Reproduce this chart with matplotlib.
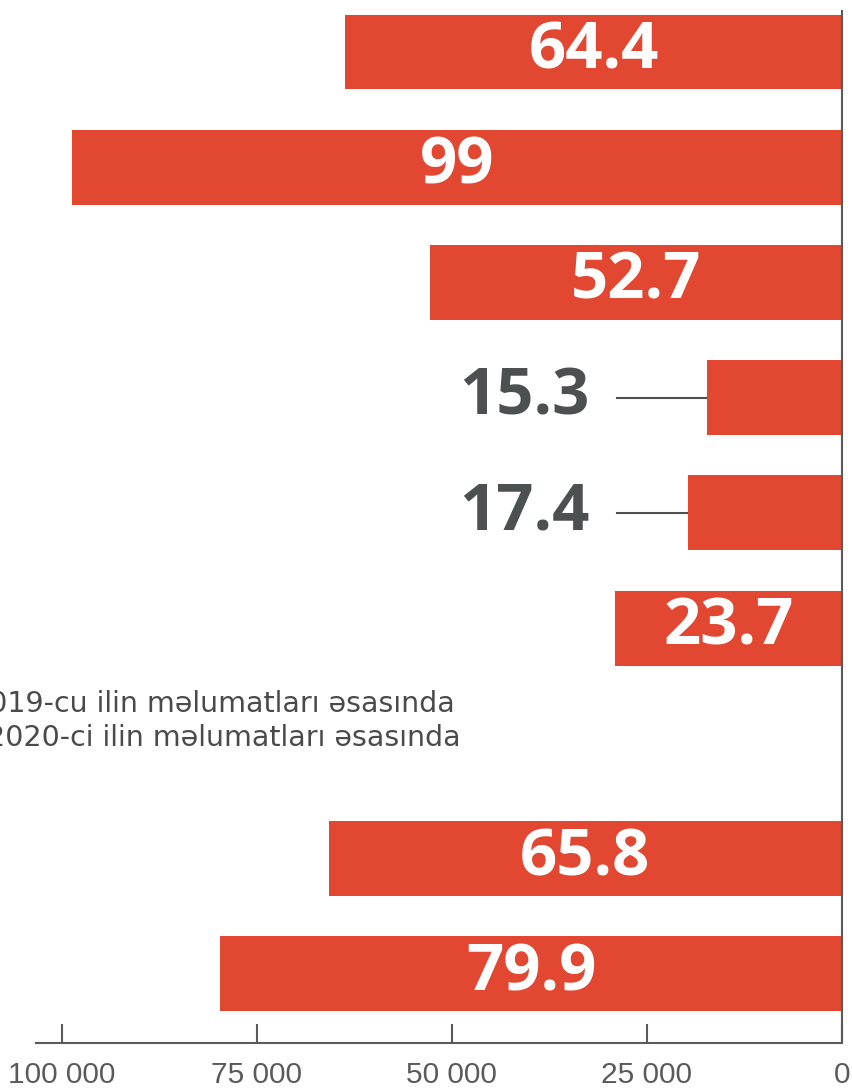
import matplotlib
matplotlib.use("Agg")
import matplotlib.pyplot as plt

# bar lengths, top to bottom
values = [63700, 98700, 52800, 17300, 19700, 29100, 65800, 79700]
labels = ["64.4", "99", "52.7", "15.3", "17.4", "23.7", "65.8", "79.9"]
ticks = [100000, 75000, 50000, 25000, 0]
tick_labels = ["100 000", "75 000", "50 000", "25 000", "0"]
notes = ["2019-cu ilin məlumatları əsasında", "2020-ci ilin məlumatları əsasında"]

RED = "#E14731"
GREY = "#5a5a5a"
DARK = "#4d5051"

W, H = 852, 1091
fig = plt.figure(figsize=(W / 100, H / 100), dpi=100)
ax = fig.add_axes([36 / W, 48 / H, (842 - 36) / W, (1080 - 48) / H])

# one empty slot between the first six bars and the last two
ypos = list(range(6)) + [7, 8]

ax.barh(ypos, values, height=0.65, color=RED, zorder=2)

for y, v, lab in zip(ypos, values, labels):
    if v < 25000:
        # short bar: label outside with a thin leader line
        ax.plot([28800, v], [y, y], color=DARK, lw=1.5, zorder=1)
        ax.text(32300, y, lab, ha="right", va="center", color=DARK,
                fontsize=47, fontweight="bold", family="Open Sans")
    else:
        ax.text(v / 2, y, lab, ha="center", va="center", color="white",
                fontsize=47, fontweight="bold", family="Open Sans")

ax.set_xlim(103300, 0)
ax.set_ylim(8.6, -0.356)
ax.set_yticks([])
ax.set_xticks(ticks)
ax.set_xticklabels(tick_labels, fontsize=21.5, color=GREY, family="Liberation Sans")
ax.tick_params(axis="x", direction="in", length=14, width=1.5, color=GREY, pad=13)

for s in ["top", "left"]:
    ax.spines[s].set_visible(False)
for s in ["bottom", "right"]:
    ax.spines[s].set_color(GREY)
    ax.spines[s].set_linewidth(1.5)

# notes run off the left edge, as in the source
fig.text(455 / W, 1 - 712 / H, notes[0], ha="right", va="baseline",
         fontsize=20.5, color="#4a4a4a", family="DejaVu Sans")
fig.text(461 / W, 1 - 746 / H, notes[1], ha="right", va="baseline",
         fontsize=20.5, color="#4a4a4a", family="DejaVu Sans")

fig.savefig("out.png", dpi=100)
